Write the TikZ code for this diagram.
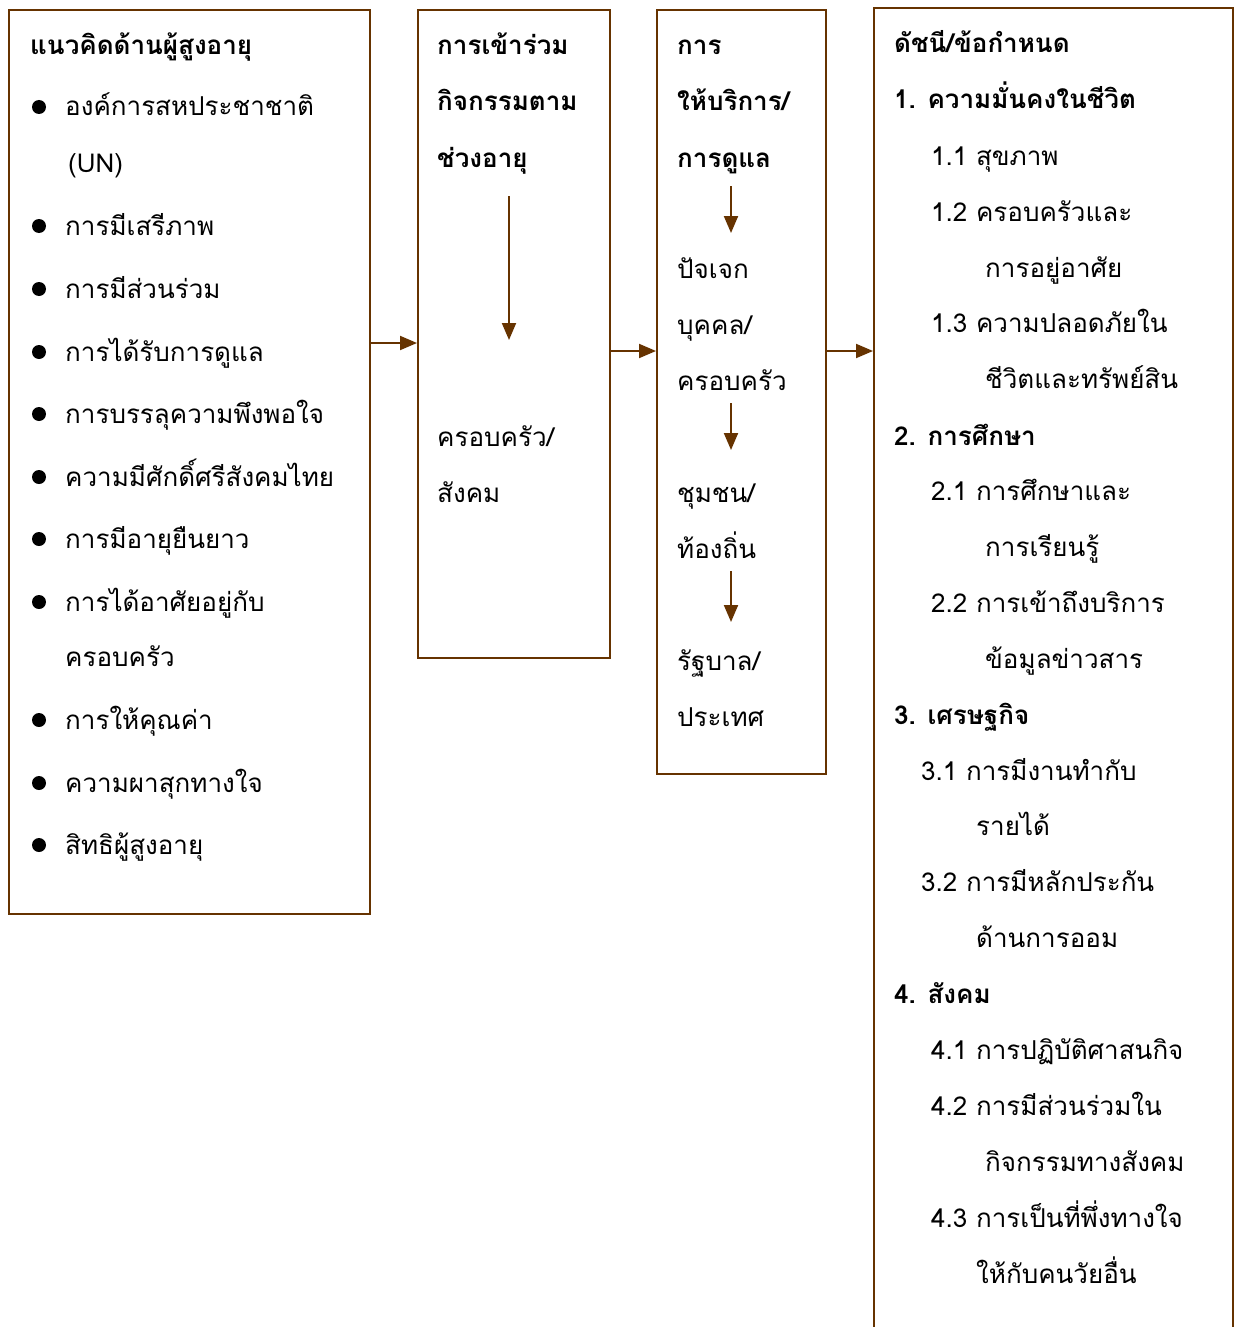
\documentclass[tikz,border=0pt]{standalone}
\usepackage{fontspec}
\newfontfamily\thaifont[Script=Thai]{Loma}
\usetikzlibrary{arrows.meta}
\definecolor{frame}{RGB}{102,51,0}

\begin{document}
\begin{tikzpicture}[x=1pt, y=-1pt,
  box/.style={draw=frame,line width=2pt,anchor=north west,inner sep=0pt},
  item/.style={anchor=base west,inner sep=0pt,yshift=2pt,font=\thaifont\fontsize{26}{30}\selectfont},
  head/.style={anchor=base west,inner sep=0pt,yshift=2pt,font=\thaifont\bfseries\fontsize{26}{30}\selectfont},
  arr/.style={draw=frame,line width=2pt,-{Triangle[length=17pt,width=14pt]}},
  dot/.style={circle,fill=black,inner sep=0pt,minimum size=14pt}]
\useasboundingbox (0,0) rectangle (1234,1327);

% boxes
\node [box,minimum width=361pt,minimum height=904pt] (b1) at (8,9) {};
\node [box,minimum width=192pt,minimum height=648pt] (b2) at (417,9) {};
\node [box,minimum width=169pt,minimum height=764pt] (b3) at (656,9) {};
\node [box,minimum width=359pt,minimum height=1340pt] (b4) at (873,7) {};

% concepts
\node [head] (t1) at (30,57) {แนวคิดด้านผู้สูงอายุ};
\foreach \y/\t [count=\i] in {118/องค์การสหประชาชาติ, 237/การมีเสรีภาพ,
    300/การมีส่วนร่วม, 363/การได้รับการดูแล, 425/การบรรลุความพึงพอใจ,
    488/ความมีศักดิ์ศรีสังคมไทย, 550/การมีอายุยืนยาว, 613/การได้อาศัยอยู่กับ,
    731/การให้คุณค่า, 794/ความผาสุกทางใจ, 856/สิทธิผู้สูงอายุ}
{
  \node [dot] (d\i) at (39,\y-11) {};
  \node [item] (u\i) at (65,\y) {\t};
}
\node [item] (u1b) at (68,174) {(UN)};
\node [item] (u8b) at (65,668) {ครอบครัว};

% participation
\node [head] (p1) at (437,57) {การเข้าร่วม};
\node [head] (p2) at (437,113) {กิจกรรมตาม};
\node [head] (p3) at (437,169) {ช่วงอายุ};
\node [item] (p4) at (437,448) {ครอบครัว/};
\node [item] (p5) at (437,504) {สังคม};
\coordinate (ps) at (509,196);
\coordinate (pe) at (509,340);

% services
\node [head] (c1) at (677,57) {การ};
\node [head] (c2) at (677,113) {ให้บริการ/};
\node [head] (c3) at (677,169) {การดูแล};
\foreach \y/\t [count=\i from 4] in {280/ปัจเจก, 336/{บุคคล/}, 392/ครอบครัว,
    504/{ชุมชน/}, 560/ท้องถิ่น, 672/{รัฐบาล/}, 728/ประเทศ}
  \node [item] (c\i) at (677,\y) {\t};
\coordinate (cs1) at (731,186);
\coordinate (ce1) at (731,233);
\coordinate (cs2) at (731,403);
\coordinate (ce2) at (731,450);
\coordinate (cs3) at (731,571);
\coordinate (ce3) at (731,622);

% indicators
\foreach \x/\y/\t/\s [count=\i] in {894/55/{ดัชนี/ข้อกำหนด}/head,
    894/111/1. ความมั่นคงในชีวิต/head, 931/167/1.1 สุขภาพ/item,
    931/223/1.2 ครอบครัวและ/item, 985/279/การอยู่อาศัย/item,
    931/334/1.3 ความปลอดภัยใน/item, 985/390/ชีวิตและทรัพย์สิน/item,
    894/447/2. การศึกษา/head, 931/502/2.1 การศึกษาและ/item,
    985/558/การเรียนรู้/item, 931/614/2.2 การเข้าถึงบริการ/item,
    985/670/ข้อมูลข่าวสาร/item, 894/726/3. เศรษฐกิจ/head,
    921/782/3.1 การมีงานทำกับ/item, 976/837/รายได้/item,
    921/893/3.2 การมีหลักประกัน/item, 976/949/ด้านการออม/item,
    894/1005/4. สังคม/head, 931/1061/4.1 การปฏิบัติศาสนกิจ/item,
    931/1117/4.2 การมีส่วนร่วมใน/item, 985/1173/กิจกรรมทางสังคม/item,
    931/1229/4.3 การเป็นที่พึ่งทางใจ/item, 976/1285/ให้กับคนวัยอื่น/item}
  \node [\s] (k\i) at (\x,\y) {\t};

\coordinate (h1) at (0,343);
\coordinate (h2) at (0,351);
\path
    (b1.east |- h1) edge [arr] (b2.west |- h1)
    (b2.east |- h2) edge [arr] (b3.west |- h2)
    (b3.east |- h2) edge [arr] (b4.west |- h2)
    (ps) edge [arr] (pe)
    (cs1) edge [arr] (ce1)
    (cs2) edge [arr] (ce2)
    (cs3) edge [arr] (ce3)
    ;
\end{tikzpicture}
\end{document}
